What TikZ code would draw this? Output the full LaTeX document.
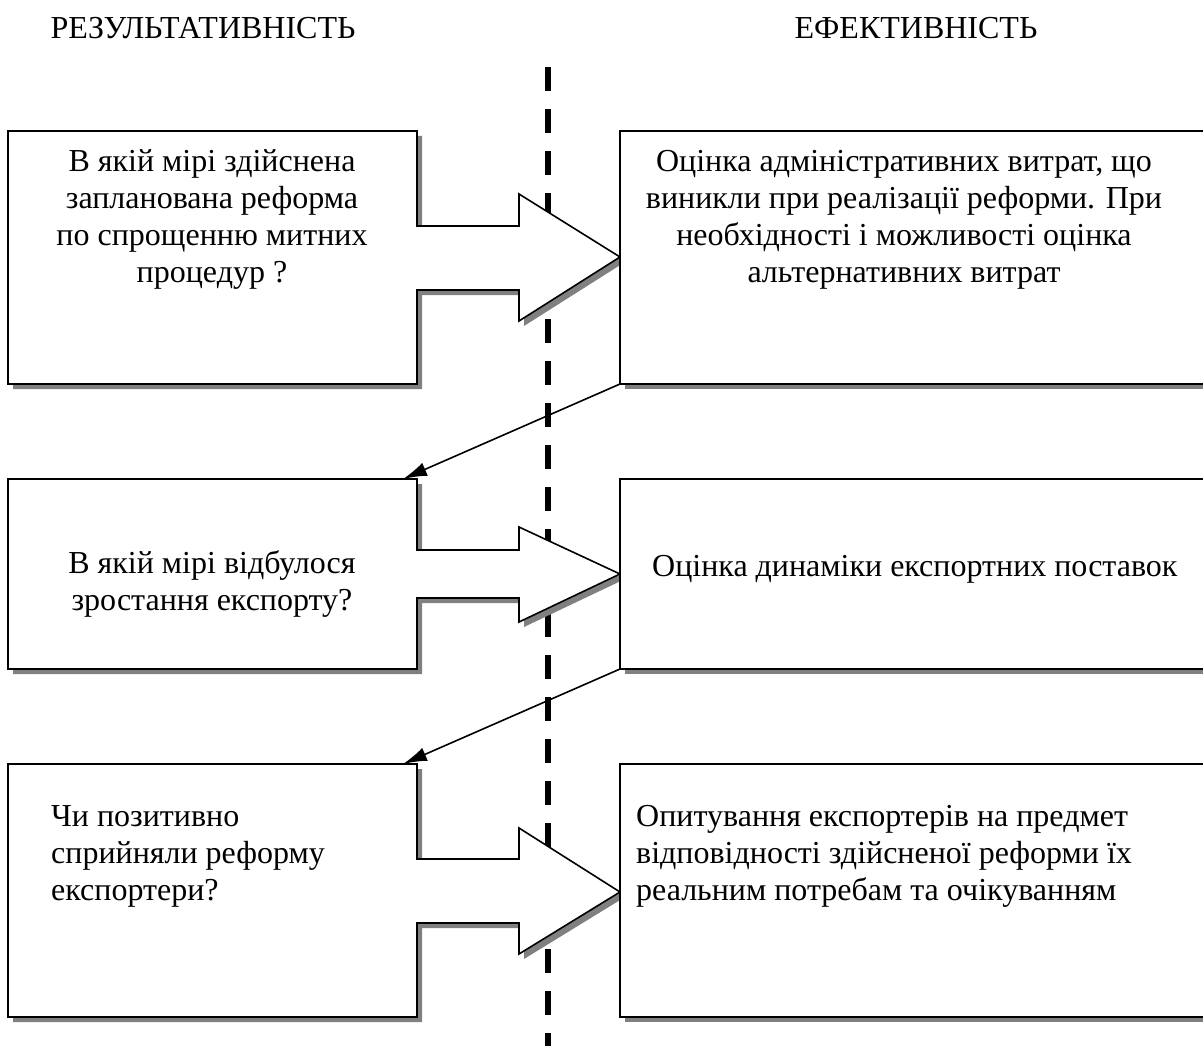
\documentclass[tikz,border=0pt]{standalone}
\usepackage{fontspec}
\setmainfont{Liberation Serif}
\usetikzlibrary{arrows.meta,shadows}

\begin{document}
\begin{tikzpicture}[x=1pt, y=-1pt,
  callout/.style={draw=black, line width=1.6pt, fill=white, line join=miter,
    drop shadow={shadow xshift=5pt, shadow yshift=-5pt, fill=black!50, opacity=1}},
  answer/.style={callout, line width=1.3pt, outer sep=0pt, inner sep=0pt, anchor=north west, minimum width=610pt},
  txt/.style={inner sep=0pt, font=\fontsize{32}{37}\selectfont},
  link/.style={line width=1.6pt, -{Latex[length=24pt, width=14pt]}}]
\useasboundingbox (0,0) rectangle (1203,1046);
\clip (0,0) rectangle (1203,1046);

% headings
\node[txt, anchor=base] (h1) at (203,39) {РЕЗУЛЬТАТИВНІСТЬ};
\node[txt, anchor=base] (h2) at (916,39) {ЕФЕКТИВНІСТЬ};

% divider
\draw[line width=6pt, dash pattern=on 24pt off 18pt] (548,67) -- (548,1070);

% first row
\draw[callout] (8,131) -- (417,131) -- (417,226) -- (519,226) -- (519,194) -- (620,257)
  -- (519,321) -- (519,290) -- (417,290) -- (417,384) -- (8,384) -- cycle;
\node[txt, anchor=north, align=center] (q1) at (212,145) {\strut В якій мірі здійснена\\ запланована реформа\\ по спрощенню митних\\ процедур ?};
\node[answer, minimum height=253pt] (e1) at (620,131) {};
\node[txt, anchor=north, align=center] (e1t) at (904,145) {\strut Оцінка адміністративних витрат, що\\ виникли при реалізації реформи. При\\ необхідності і можливості оцінка\\ альтернативних витрат};

% second row
\draw[callout] (8,479) -- (417,479) -- (417,550) -- (519,550) -- (519,527) -- (620,574)
  -- (519,622) -- (519,598) -- (417,598) -- (417,669) -- (8,669) -- cycle;
\coordinate (r2) at (403,479);
\node[txt, anchor=north, align=center] (q2) at (212,547) {\strut В якій мірі відбулося\\ зростання експорту?};
\node[answer, minimum height=190pt] (e2) at (620,479) {};
\node[txt, anchor=north west, align=left] (e2t) at (652,550) {\strut Оцінка динаміки експортних поставок};

% third row
\draw[callout] (8,764) -- (417,764) -- (417,859) -- (519,859) -- (519,828) -- (620,892)
  -- (519,954) -- (519,923) -- (417,923) -- (417,1017) -- (8,1017) -- cycle;
\coordinate (r3) at (403,764);
\node[txt, anchor=north west, align=left] (q3) at (51,800) {\strut Чи позитивно\\ сприйняли реформу\\ експортери?};
\node[answer, minimum height=253pt] (e3) at (620,764) {};
\node[txt, anchor=north west, align=left] (e3t) at (636,800) {\strut Опитування експортерів на предмет\\ відповідності здійсненої реформи їх\\ реальним потребам та очікуванням};

% links
\draw[link] (e1.south west) -- (r2);
\draw[link] (e2.south west) -- (r3);

\end{tikzpicture}
\end{document}
